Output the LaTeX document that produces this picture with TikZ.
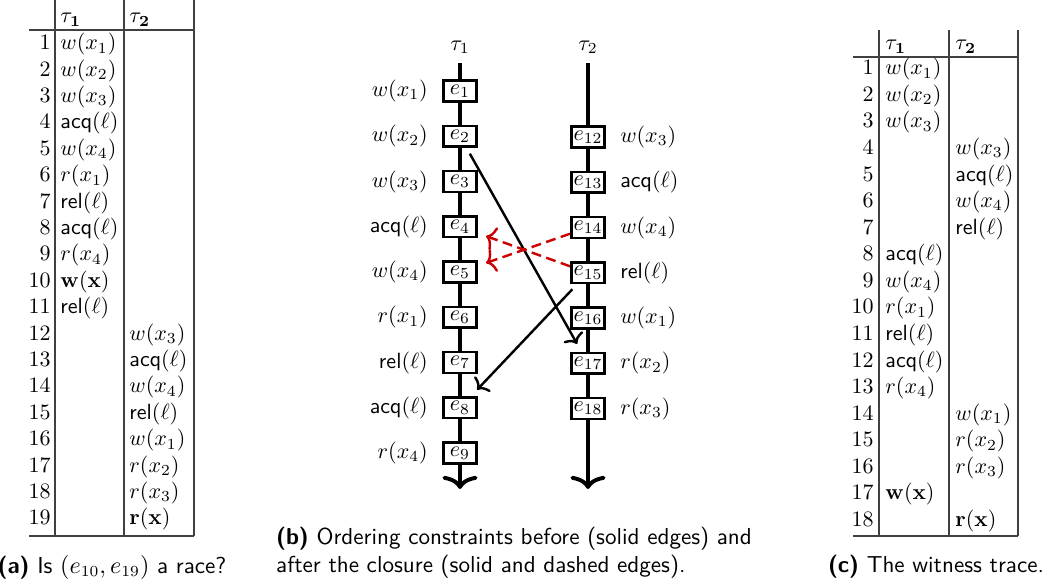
\documentclass[tikz,border=0pt]{standalone}
\usepackage{amsmath}
\usepackage{amssymb}
\usepackage{xcolor}
\usetikzlibrary{positioning, arrows.meta}

\newcommand{\evW}[1]{w(x_{#1})}
\newcommand{\evR}[1]{r(x_{#1})}
\newcommand{\evAcq}{\textsf{acq}(\ell)}
\newcommand{\evRel}{\textsf{rel}(\ell)}
\newcommand{\evWx}{\mathbf{w}(\mathbf{x})}
\newcommand{\evRx}{\mathbf{r}(\mathbf{x})}

\begin{document}
\begin{tikzpicture}
                [
                x=0.4545pt, y=-0.4545pt,
                event/.style={draw,fill=white,line width=1.2pt,minimum width=15pt,minimum height=9.4pt,inner sep=1pt},
                thread/.style={line width=1.8pt,-{Computer Modern Rightarrow[width=16pt,length=6pt]}},
                order/.style={line width=1.1pt,-{Computer Modern Rightarrow[width=10pt,length=4pt]},shorten <=3pt,shorten >=4pt},
                closure/.style={red!80!black,line width=1.1pt,dash pattern=on 4.5pt off 2.5pt,-{Computer Modern Rightarrow[width=11pt,length=4pt]},shorten >=4pt},
                cell/.style={inner sep=0pt},
                rule/.style={draw=black!75,line width=0.6pt},
                caption/.style={font=\sffamily\fontsize{10.5}{12.6}\selectfont}
                ]
            \useasboundingbox (0,0) rectangle (1052,584);
            % (a) the trace
            \draw[rule] (55,0) -- (55,536);
            \draw[rule] (124,0) -- (124,536);
            \draw[rule] (194,0) -- (194,536);
            \draw[rule] (29,30) -- (194,30);
            \draw[rule] (29,536) -- (194,536);
            \node[cell,anchor=mid west] (ah1) at (60,18) {$\tau_{\mathbf{1}}$};
            \node[cell,anchor=mid west] (ah2) at (129,18) {$\tau_{\mathbf{2}}$};
            \foreach \n/\ev/\th in {1/\evW1/1, 2/\evW2/1, 3/\evW3/1, 4/\evAcq/1, 5/\evW4/1,
                6/\evR1/1, 7/\evRel/1, 8/\evAcq/1, 9/\evR4/1, 10/\evWx/1, 11/\evRel/1,
                12/\evW3/2, 13/\evAcq/2, 14/\evW4/2, 15/\evRel/2, 16/\evW1/2,
                17/\evR2/2, 18/\evR3/2, 19/\evRx/2}{
                \node[cell,anchor=mid east] (an\n) at (51,{45+26.4*(\n-1)}) {\n};
                \node[cell,anchor=mid west] (a\n) at ({60+69*(\th-1)},{45+26.4*(\n-1)}) {$\ev$};
            }
            \node[caption] (capa) at (112,567) {\textbf{(a)} Is $(e_{10}, e_{19})$ a race?};
            % (b) the two threads
            \coordinate (t1top) at (460,63);
            \coordinate (t1end) at (460,489);
            \coordinate (t2top) at (588,63);
            \coordinate (t2end) at (588,489);
            \node (th1) at (460,47) {$\tau_1$};
            \node (th2) at (588,47) {$\tau_2$};
            \draw[thread] (t1top) -- (t1end);
            \draw[thread] (t2top) -- (t2end);
            \foreach \i/\ev in {1/\evW1, 2/\evW2, 3/\evW3, 4/\evAcq, 5/\evW4,
                6/\evR1, 7/\evRel, 8/\evAcq, 9/\evR4}{
                \node[event] (e\i) at (460,{91+45.25*(\i-1)}) {$e_{\i}$};
                \node[left=3pt of e\i] (l\i) {$\ev$};
            }
            \foreach \i/\ev in {12/\evW3, 13/\evAcq, 14/\evW4, 15/\evRel,
                16/\evW1, 17/\evR2, 18/\evR3}{
                \node[event] (e\i) at (588,{137+45.25*(\i-12)}) {$e_{\i}$};
                \node[right=3pt of e\i] (l\i) {$\ev$};
            }
            \draw[order] (e2) -- (e17);
            \draw[order] (e15) -- (e8);
            \draw[closure] (e14) -- (e5);
            \draw[closure] (e15) -- (e4);
            \node[caption,align=left] (capb) at (514,553) {\textbf{(b)} Ordering constraints before (solid edges) and\\after the closure (solid and dashed edges).};
            % (c) the witness
            \draw[rule] (879,30) -- (879,536);
            \draw[rule] (949,30) -- (949,536);
            \draw[rule] (1018,30) -- (1018,536);
            \draw[rule] (853,57) -- (1018,57);
            \draw[rule] (853,536) -- (1018,536);
            \node[cell,anchor=mid west] (ch1) at (885,45) {$\tau_{\mathbf{1}}$};
            \node[cell,anchor=mid west] (ch2) at (955,45) {$\tau_{\mathbf{2}}$};
            \foreach \n/\ev/\th in {1/\evW1/1, 2/\evW2/1, 3/\evW3/1, 4/\evW3/2, 5/\evAcq/2,
                6/\evW4/2, 7/\evRel/2, 8/\evAcq/1, 9/\evW4/1, 10/\evR1/1, 11/\evRel/1,
                12/\evAcq/1, 13/\evR4/1, 14/\evW1/2, 15/\evR2/2, 16/\evR3/2,
                17/\evWx/1, 18/\evRx/2}{
                \node[cell,anchor=mid east] (cn\n) at (874,{70+26.57*(\n-1)}) {\n};
                \node[cell,anchor=mid west] (c\n) at ({885+70*(\th-1)},{70+26.57*(\n-1)}) {$\ev$};
            }
            \node[caption] (capc) at (936,567) {\textbf{(c)} The witness trace.};
            \end{tikzpicture}
\end{document}
